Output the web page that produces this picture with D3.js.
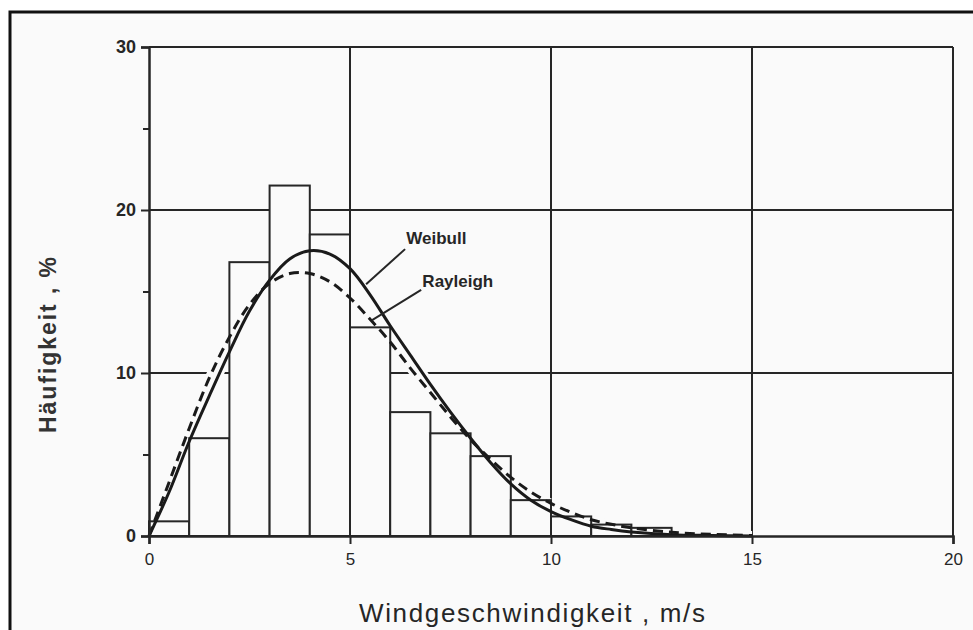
<!DOCTYPE html>
<html lang="de">

<head>
    <meta charset="UTF-8">
    <title>Häufigkeitsverteilung Windgeschwindigkeit</title>
    <script src="https://cdn.jsdelivr.net/npm/d3@7"></script>
    <style>
        body { margin: 0; background: #fff; }
        svg { display: block; font-family: "Liberation Sans", Arial, sans-serif; }
    </style>
</head>

<body>
    <div id="container"></div>
    <script>
        // Histogramm: Klassen 0-1, 1-2, ... 12-13 m/s
        const binStarts = [0, 1, 2, 3, 4, 5, 6, 7, 8, 9, 10, 11, 12];
        const binValues = [0.9, 6.0, 16.8, 21.5, 18.5, 12.8, 7.6, 6.3, 4.9, 2.2, 1.2, 0.7, 0.5];

        const curveSpeeds = [0, 0.5, 1, 1.5, 2, 2.5, 3, 3.5, 4, 4.5, 5, 5.5, 6, 6.5, 7, 7.5, 8, 8.5, 9, 9.5, 10, 10.5, 11, 11.5, 12, 13, 14, 15];
        const weibull = [0, 2.7, 5.8, 8.6, 11.3, 13.8, 15.7, 17.0, 17.5, 17.3, 16.4, 14.8, 12.9, 11.1, 9.3, 7.6, 6.0, 4.5, 3.2, 2.2, 1.5, 1.0, 0.6, 0.4, 0.25, 0.08, 0.03, 0];
        const rayleigh = [0, 3.3, 6.6, 9.7, 12.2, 14.2, 15.5, 16.1, 16.1, 15.6, 14.6, 13.3, 11.9, 10.3, 8.8, 7.3, 5.9, 4.7, 3.6, 2.7, 2.0, 1.45, 1.0, 0.72, 0.5, 0.23, 0.1, 0.03];

        const xTicks = [0, 5, 10, 15, 20];
        const yTicks = [0, 10, 20, 30];
        const yMinorTicks = [5, 15, 25];

        // Beschriftungen der Kurven (Datenkoordinaten)
        const labelNames = ["Weibull", "Rayleigh"];
        const labelAt = [[6.4, 17.9], [6.8, 15.3]];
        const leaderFrom = [[6.37, 17.6], [6.77, 15.1]];
        const leaderTo = [[5.4, 15.45], [5.55, 13.25]];

        const W = 973, H = 630;
        const ink = "#262626";

        const svg = d3.select("#container").append("svg")
            .attr("width", W)
            .attr("height", H);

        // Rahmen (gescannte Seite)
        svg.append("rect")
            .attr("x", 10).attr("y", 12)
            .attr("width", 980).attr("height", 640)
            .attr("fill", "#fafafa")
            .attr("stroke", "#111")
            .attr("stroke-width", 3);

        const x = d3.scaleLinear().domain([0, 20]).range([149, 953]);
        const y = d3.scaleLinear().domain([0, 30]).range([536, 47]);

        // Gitter
        const grid = svg.append("g").attr("stroke", ink).attr("stroke-width", 2);
        grid.selectAll(".gy").data(yTicks.slice(1)).enter().append("line")
            .attr("x1", x(0)).attr("x2", x(20))
            .attr("y1", d => y(d)).attr("y2", d => y(d));
        grid.selectAll(".gx").data(xTicks.slice(1)).enter().append("line")
            .attr("y1", y(0)).attr("y2", y(30))
            .attr("x1", d => x(d)).attr("x2", d => x(d));

        const line = d3.line()
            .x(d => x(d[0]))
            .y(d => y(d[1]))
            .curve(d3.curveCatmullRom.alpha(.5));

        const wPts = curveSpeeds.map((v, i) => [v, weibull[i]]);
        const rPts = curveSpeeds.map((v, i) => [v, rayleigh[i]]);

        // weisser Rand um die Kurven (Luecken im Gitter)
        [wPts, rPts].forEach(pts => {
            svg.append("path")
                .attr("fill", "none")
                .attr("stroke", "#fafafa")
                .attr("stroke-width", 9)
                .attr("d", line(pts));
        });

        // Saeulen
        svg.append("g").selectAll("rect")
            .data(binStarts)
            .enter()
            .append("rect")
            .attr("x", d => x(d))
            .attr("width", d => x(d + 1) - x(d))
            .attr("y", (d, i) => y(binValues[i]))
            .attr("height", (d, i) => y(0) - y(binValues[i]))
            .attr("fill", "#fafafa")
            .attr("stroke", ink)
            .attr("stroke-width", 2);

        // Kurven
        svg.append("path")
            .attr("fill", "none")
            .attr("stroke", "#1a1a1a")
            .attr("stroke-width", 3)
            .attr("d", line(wPts));

        svg.append("path")
            .attr("fill", "none")
            .attr("stroke", "#1a1a1a")
            .attr("stroke-width", 3)
            .attr("stroke-dasharray", "10,6")
            .attr("d", line(rPts));

        // Achsen
        const yAxis = svg.append("g")
            .attr("transform", `translate(${x(0)},0)`)
            .call(d3.axisLeft(y).tickValues(yTicks).tickSize(8).tickPadding(5));
        svg.append("g")
            .attr("transform", `translate(${x(0)},0)`)
            .call(d3.axisLeft(y).tickValues(yMinorTicks).tickSize(6).tickFormat(""))
            .call(g => g.select(".domain").remove());

        const xAxis = svg.append("g")
            .attr("transform", `translate(0,${y(0)})`)
            .call(d3.axisBottom(x).tickValues(xTicks).tickSize(8).tickPadding(9));

        svg.selectAll(".domain").attr("stroke", ink).attr("stroke-width", 2.5);
        svg.selectAll(".tick line").attr("stroke", ink).attr("stroke-width", 2);
        yAxis.selectAll("text")
            .attr("font-size", 18)
            .attr("font-weight", "bold")
            .attr("fill", ink)
            .attr("font-family", "Liberation Sans, Arial, sans-serif");
        xAxis.selectAll("text")
            .attr("font-size", 17)
            .attr("fill", ink)
            .attr("font-family", "Liberation Sans, Arial, sans-serif");

        // Kurvenbeschriftungen
        labelNames.forEach((name, i) => {
            svg.append("line")
                .attr("x1", x(leaderFrom[i][0])).attr("y1", y(leaderFrom[i][1]))
                .attr("x2", x(leaderTo[i][0])).attr("y2", y(leaderTo[i][1]))
                .attr("stroke", ink)
                .attr("stroke-width", 2);
            svg.append("text")
                .attr("x", x(labelAt[i][0]))
                .attr("y", y(labelAt[i][1]))
                .attr("font-size", 17)
                .attr("font-weight", "bold")
                .attr("fill", ink)
                .text(name);
        });

        // Achsentitel
        svg.append("text")
            .attr("transform", "translate(56,345) rotate(-90)")
            .attr("text-anchor", "middle")
            .attr("font-size", 23)
            .attr("font-weight", "bold")
            .attr("fill", "#333")
            .attr("textLength", 176)
            .attr("lengthAdjust", "spacing")
            .text("Häufigkeit , %");

        svg.append("text")
            .attr("x", 532)
            .attr("y", 622)
            .attr("text-anchor", "middle")
            .attr("font-size", 26)
            .attr("fill", ink)
            .attr("textLength", 346)
            .attr("lengthAdjust", "spacing")
            .text("Windgeschwindigkeit , m/s");
    </script>
</body>

</html>
